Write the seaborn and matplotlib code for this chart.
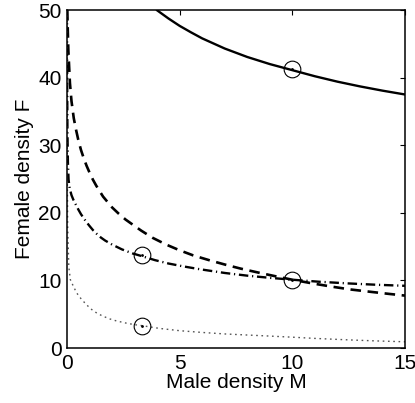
import matplotlib
matplotlib.use("Agg")
import matplotlib.pyplot as plt
import seaborn as sns

# Solid curve
solid_x = [3.98, 4.5, 5.0, 5.5, 6.0, 7.0, 8.0, 9.0, 10.0, 11.0, 12.0, 13.0, 14.0, 15.0]
solid_y = [50.0, 48.75, 47.65, 46.7, 45.8, 44.3, 43.05, 42.0, 41.1, 40.2, 39.4, 38.7, 38.07, 37.5]

# Dashed curve
dashed_x = [0.01, 0.06, 0.13, 0.2, 0.3, 0.4, 0.5, 0.62, 0.75, 0.87, 1.0, 1.15, 1.3, 1.6, 2.0, 2.3, 2.6, 3.0, 3.3, 3.8, 4.4, 5.0, 5.6, 6.35, 7.0, 7.7, 8.5, 9.2, 10.0, 10.9, 11.8, 12.6, 13.5, 14.3, 15.0]
dashed_y = [50.0, 44.0, 39.2, 36.5, 34.0, 32.3, 30.8, 29.3, 28.0, 26.95, 25.95, 24.9, 24.0, 22.4, 20.8, 19.85, 19.0, 18.05, 17.35, 16.3, 15.3, 14.45, 13.7, 12.95, 12.35, 11.75, 11.15, 10.65, 10.1, 9.55, 9.05, 8.65, 8.3, 8.0, 7.75]

# Dash-dot curve
dashdot_x = [0.0, 0.01, 0.02, 0.04, 0.07, 0.12, 0.2, 0.28, 0.37, 0.5, 0.62, 0.74, 0.87, 1.0, 1.15, 1.33, 1.5, 1.69, 2.0, 2.43, 2.9, 3.31, 3.9, 4.5, 5.2, 5.9, 7.0, 8.0, 9.0, 10.0, 11.2, 12.5, 13.7, 15.0]
dashdot_y = [50.0, 38.0, 32.0, 27.5, 24.9, 23.6, 22.6, 21.95, 21.35, 20.5, 19.8, 19.2, 18.6, 18.05, 17.45, 16.85, 16.35, 15.9, 15.3, 14.6, 14.0, 13.6, 13.0, 12.5, 12.05, 11.65, 11.1, 10.7, 10.38, 10.1, 9.8, 9.55, 9.36, 9.2]

# Dotted curve
dotted_x = [0.0, 0.01, 0.03, 0.08, 0.15, 0.3, 0.44, 0.62, 0.81, 1.05, 1.33, 1.6, 1.9, 2.2, 2.6, 3.0, 3.34, 4.1, 5.0, 6.0, 7.0, 8.0, 8.9, 10.0, 11.0, 12.5, 13.7, 15.0]
dotted_y = [50.0, 28.0, 18.0, 12.0, 10.1, 9.0, 8.1, 7.3, 6.6, 5.8, 5.15, 4.7, 4.3, 4.0, 3.7, 3.45, 3.3, 2.9, 2.56, 2.3, 2.08, 1.92, 1.78, 1.6, 1.42, 1.2, 1.05, 0.92]

# Circled points
marker_x = [10.0, 3.33, 10.0, 3.33]
marker_y = [41.3, 13.7, 10.0, 3.3]

xticks = [0, 5, 10, 15]
yticks = [0, 10, 20, 30, 40, 50]

sns.set_style("white")
plt.rcParams['font.family'] = ['Liberation Sans', 'DejaVu Sans']
plt.rcParams['font.size'] = 15
plt.rcParams['text.color'] = 'k'
plt.rcParams['axes.labelcolor'] = 'k'
plt.rcParams['xtick.color'] = 'k'
plt.rcParams['ytick.color'] = 'k'

fig = plt.figure(figsize=(4.15, 4.03), dpi=100)
ax = fig.add_axes([67/415, 55/403, 338/415, 338/403])

lw = 1.7
sns.lineplot(x=solid_x, y=solid_y, ax=ax, color='k', lw=lw, sort=False)
sns.lineplot(x=dashed_x, y=dashed_y, ax=ax, color='k', lw=lw + 0.2, sort=False,
             linestyle=(0, (4.0, 2.5)))
sns.lineplot(x=dashdot_x, y=dashdot_y, ax=ax, color='k', lw=lw, sort=False,
             linestyle=(0, (4.0, 1.6, 0.5, 1.6)))
sns.lineplot(x=dotted_x, y=dotted_y, ax=ax, color='#555555', lw=1.0, sort=False,
             linestyle=(0, (1.2, 2.6)))

ax.plot(marker_x, marker_y, linestyle='none', marker='o', markersize=12,
        markerfacecolor='none', markeredgecolor='k', markeredgewidth=0.8)
ax.plot(marker_x, marker_y, linestyle='none', marker='.', markersize=2, color='k')

ax.set_xlim(0, 15)
ax.set_ylim(0, 50)
ax.set_xticks(xticks)
ax.set_yticks(yticks)
ax.tick_params(direction='in', length=3.5, width=0.8, top=True, right=True,
               labelsize=15, pad=4)
for s in ax.spines.values():
    s.set_visible(True)
    s.set_color('k')
    s.set_linewidth(1.1)
ax.set_xlabel('Male density M', fontsize=15, labelpad=0)
ax.set_ylabel('Female density F', fontsize=15, labelpad=3)

fig.savefig('out.png', dpi=100)
